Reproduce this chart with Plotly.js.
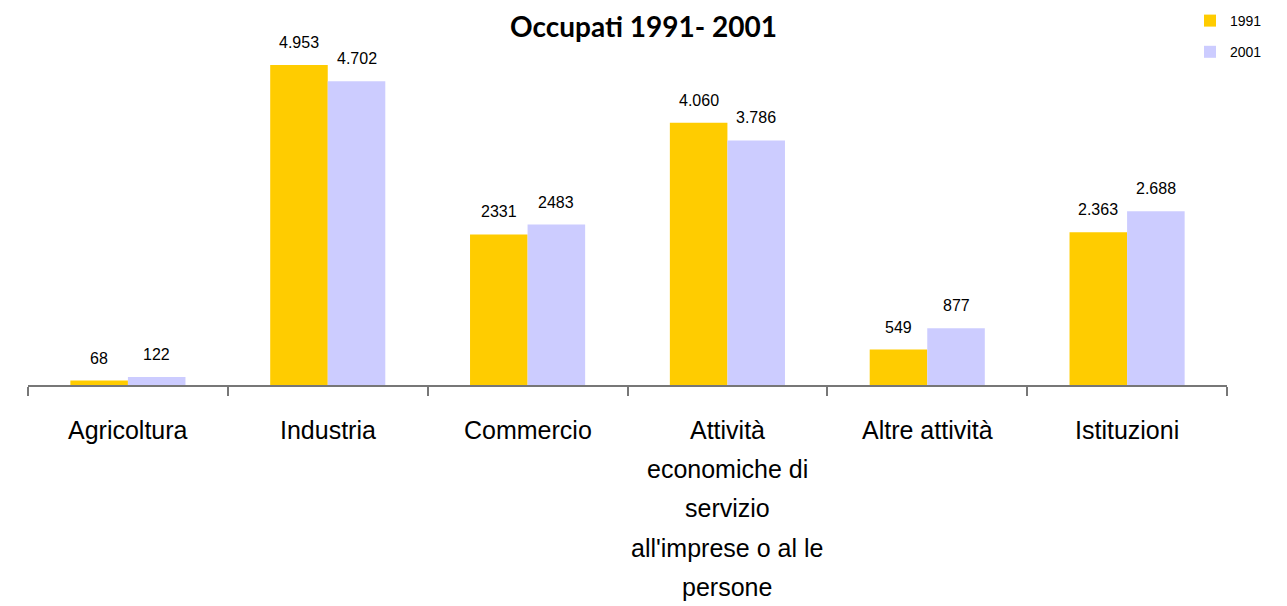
<!DOCTYPE html>
<html>
<head>
<meta charset="utf-8">
<script src="https://cdn.plot.ly/plotly-3.0.1.min.js"></script>
<style>html,body{margin:0;padding:0;background:#fff;}#chart{width:1287px;height:606px;}</style>
</head>
<body>
<div id="chart"></div>
<script>
const categories = ["Agricoltura", "Industria", "Commercio", "Attività\neconomiche di\nservizio\nall'imprese o al le\npersone", "Altre attività", "Istituzioni"];
const seriesNames = ["1991", "2001"];
const values1991 = [68, 4953, 2331, 4060, 549, 2363];
const values2001 = [122, 4702, 2483, 3786, 877, 2688];
const labels1991 = ["68", "4.953", "2331", "4.060", "549", "2.363"];
const labels2001 = ["122", "4.702", "2483", "3.786", "877", "2.688"];
const colors = ["#FFCC00", "#CCCCFF"];

const catKeys = categories.map((c, i) => "c" + i);

const traces = [
  {type: "bar", name: seriesNames[0], x: catKeys, y: values1991, marker: {color: colors[0]}, legendgroup: "a", hoverinfo: "y"},
  {type: "bar", name: seriesNames[1], x: catKeys, y: values2001, marker: {color: colors[1]}, legendgroup: "b", hoverinfo: "y"}
];

const annotations = [];
const barPx = 57.5;
const sets = [[values1991, labels1991, -barPx / 2], [values2001, labels2001, barPx / 2]];
sets.forEach(([vals, labs, dx]) => {
  vals.forEach((v, i) => {
    annotations.push({
      x: catKeys[i], y: v, xref: "x", yref: "y", text: labs[i], showarrow: false,
      xshift: dx, yshift: 12, yanchor: "bottom",
      font: {family: "Liberation Sans, Arial, sans-serif", size: 16, color: "#000"}
    });
  });
});
categories.forEach((c, i) => {
  c.split("\n").forEach((line, k) => {
    annotations.push({
      x: catKeys[i], y: 0, xref: "x", yref: "paper", text: line, showarrow: false,
      yanchor: "middle", yshift: -45 - k * 39.2,
      font: {family: "Liberation Sans, Arial, sans-serif", size: 25, color: "#000"}
    });
  });
});

const layout = {
  width: 1287, height: 606,
  margin: {l: 28, r: 60, t: 40, b: 221, pad: 0, autoexpand: false},
  paper_bgcolor: "#fff", plot_bgcolor: "#fff",
  title: {text: "Occupati 1991- 2001", x: 0.5, xanchor: "center", y: 1 - 27 / 606, yanchor: "middle",
          font: {family: "Lato, sans-serif", size: 28, color: "#000", weight: "bold"}},
  barmode: "group", bargap: 0.424, bargroupgap: 0,
  xaxis: {type: "category", showticklabels: false, tickson: "boundaries", ticks: "outside",
          ticklen: 9, tickwidth: 2, tickcolor: "#777", showline: true, linecolor: "#777", linewidth: 2,
          showgrid: false, zeroline: false, fixedrange: true, automargin: false},
  yaxis: {range: [0, 5341], visible: false, showgrid: false, zeroline: false, fixedrange: true, automargin: false},
  showlegend: true,
  legend: {xref: "container", yref: "container", x: 1190 / 1287, y: 1 - 5 / 606, xanchor: "left", yanchor: "top",
           traceorder: "grouped", tracegroupgap: 10, itemwidth: 30,
           font: {family: "Liberation Sans, Arial, sans-serif", size: 14, color: "#000"}, bgcolor: "rgba(0,0,0,0)"},
  annotations: annotations
};

Plotly.newPlot("chart", traces, layout, {displayModeBar: false, staticPlot: true});
</script>
</body>
</html>
